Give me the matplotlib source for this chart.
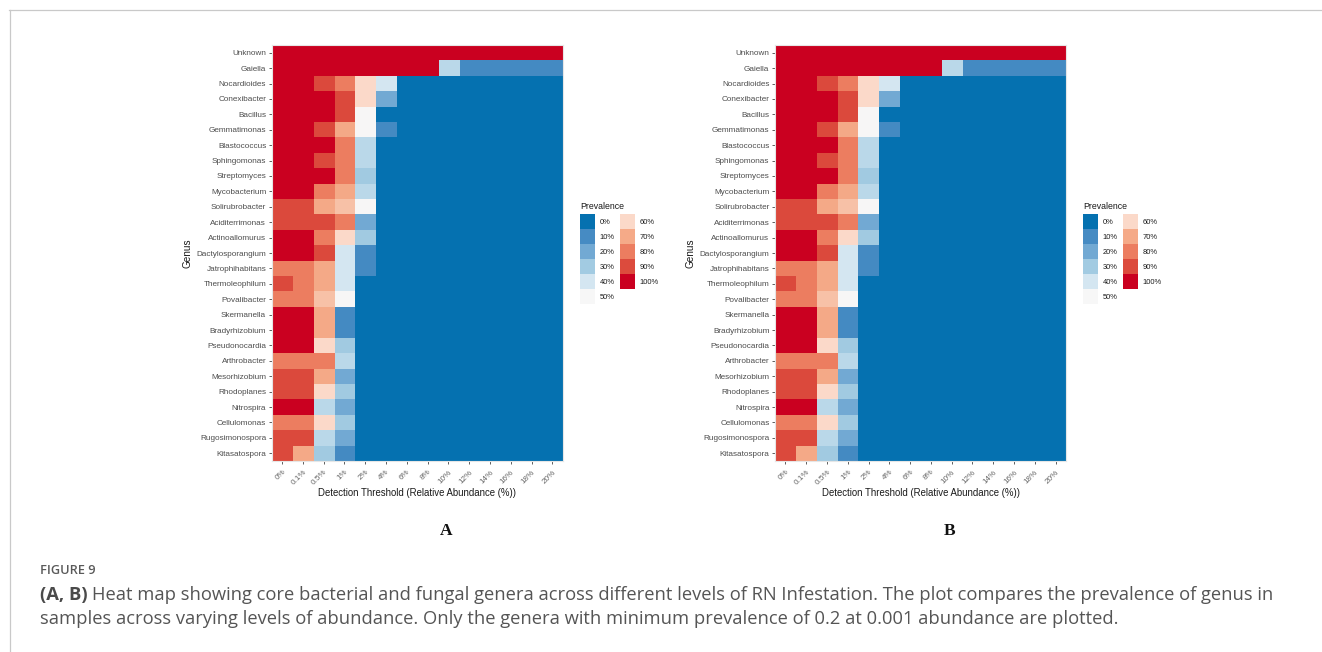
import numpy as np
import matplotlib
matplotlib.use("Agg")
import matplotlib.pyplot as plt
from matplotlib.colors import LinearSegmentedColormap
from matplotlib.patches import Patch
from matplotlib.lines import Line2D

# ---- data -------------------------------------------------------------
genera = [
    "Unknown", "Gaiella", "Nocardioides", "Conexibacter", "Bacillus",
    "Gemmatimonas", "Blastococcus", "Sphingomonas", "Streptomyces",
    "Mycobacterium", "Solirubrobacter", "Aciditerrimonas", "Actinoallomurus",
    "Dactylosporangium", "Jatrophihabitans", "Thermoleophilum", "Povalibacter",
    "Skermanella", "Bradyrhizobium", "Pseudonocardia", "Arthrobacter",
    "Mesorhizobium", "Rhodoplanes", "Nitrospira", "Cellulomonas",
    "Rugosimonospora", "Kitasatospora",
]
thresholds = ["0%", "0.1%", "0.5%", "1%", "2%", "4%", "6%", "8%", "10%",
              "12%", "14%", "16%", "18%", "20%"]

# prevalence (fraction of samples) per genus at each detection threshold
prev_head = [
    [1.00, 1.00, 1.00, 1.00, 1.00, 1.00, 1.00, 1.00, 1.00, 1.00, 1.00, 1.00, 1.00, 1.00],
    [1.00, 1.00, 1.00, 1.00, 1.00, 1.00, 1.00, 1.00, 0.35, 0.10, 0.10, 0.10, 0.10, 0.10],
]
# remaining genera: first six thresholds, zero prevalence beyond
prev_low = [
    [1.00, 1.00, 0.90, 0.80, 0.60, 0.40],
    [1.00, 1.00, 1.00, 0.90, 0.60, 0.20],
    [1.00, 1.00, 1.00, 0.90, 0.50, 0.00],
    [1.00, 1.00, 0.90, 0.70, 0.50, 0.10],
    [1.00, 1.00, 1.00, 0.80, 0.35, 0.00],
    [1.00, 1.00, 0.90, 0.80, 0.35, 0.00],
    [1.00, 1.00, 1.00, 0.80, 0.30, 0.00],
    [1.00, 1.00, 0.80, 0.70, 0.35, 0.00],
    [0.90, 0.90, 0.70, 0.65, 0.50, 0.00],
    [0.90, 0.90, 0.90, 0.80, 0.20, 0.00],
    [1.00, 1.00, 0.80, 0.60, 0.30, 0.00],
    [1.00, 1.00, 0.90, 0.40, 0.10, 0.00],
    [0.80, 0.80, 0.70, 0.40, 0.10, 0.00],
    [0.90, 0.80, 0.70, 0.40, 0.00, 0.00],
    [0.80, 0.80, 0.65, 0.50, 0.00, 0.00],
    [1.00, 1.00, 0.70, 0.10, 0.00, 0.00],
    [1.00, 1.00, 0.70, 0.10, 0.00, 0.00],
    [1.00, 1.00, 0.60, 0.30, 0.00, 0.00],
    [0.80, 0.80, 0.80, 0.35, 0.00, 0.00],
    [0.90, 0.90, 0.70, 0.20, 0.00, 0.00],
    [0.90, 0.90, 0.60, 0.30, 0.00, 0.00],
    [1.00, 1.00, 0.35, 0.20, 0.00, 0.00],
    [0.80, 0.80, 0.60, 0.30, 0.00, 0.00],
    [0.90, 0.90, 0.35, 0.20, 0.00, 0.00],
    [0.90, 0.70, 0.30, 0.10, 0.00, 0.00],
]
legend_levels = [0.0, 0.1, 0.2, 0.3, 0.4, 0.5, 0.6, 0.7, 0.8, 0.9, 1.0]
legend_labels = ["0%", "10%", "20%", "30%", "40%", "50%",
                 "60%", "70%", "80%", "90%", "100%"]
level_colors = ["#0571b0", "#468bc3", "#72a9d3", "#a2cbe2", "#d4e6f1",
                "#f7f7f7", "#fbd9c9", "#f5aa88", "#ec7d60", "#dc4b3d",
                "#ca0020"]

panel_letters = ["A", "B"]

# ---- build matrix -----------------------------------------------------
n_thr = len(thresholds)
prevalence = np.array(
    prev_head + [row + [0.0] * (n_thr - len(row)) for row in prev_low]
)

cmap = LinearSegmentedColormap.from_list(
    "prev", list(zip(legend_levels, level_colors)))

plt.rcParams["font.family"] = ["Liberation Sans", "DejaVu Sans"]

W, H = 1322, 652
fig = plt.figure(figsize=(W / 100, H / 100), dpi=100)
fig.patch.set_facecolor("white")


def fx(px):
    return px / W


def fy(py):
    return 1 - py / H


tick_col = "#4d4d4d"
panel_lefts = [271.7, 775.0]

for left_px, letter in zip(panel_lefts, panel_letters):
    ax = fig.add_axes([fx(left_px), fy(461), 291 / W, 416 / H])
    ax.imshow(prevalence, cmap=cmap, vmin=0, vmax=1, aspect="auto",
              interpolation="nearest")
    ax.set_xticks(range(n_thr))
    ax.set_xticklabels(thresholds, rotation=45, ha="right", va="top",
                       rotation_mode="anchor", fontsize=5.9, color="#666666")
    ax.set_yticks(range(len(genera)))
    ax.set_yticklabels(genera, fontsize=5.9, color=tick_col)
    ax.tick_params(axis="both", length=2.5, width=0.6, color="#444444",
                   pad=1.5)
    ax.tick_params(axis="x", pad=3)
    for s in ax.spines.values():
        s.set_color("#e6e6e6")
        s.set_linewidth(0.8)
    ax.set_xlabel("Detection Threshold (Relative Abundance (%))",
                  fontsize=6.95, color="#1a1a1a", labelpad=1)
    ax.set_ylabel("Genus", fontsize=7.2, color="#1a1a1a", labelpad=3)

    handles = [Patch(facecolor=c, edgecolor="none") for c in level_colors]
    leg = fig.legend(handles, legend_labels, ncol=2, title="Prevalence",
                     loc="upper left",
                     bbox_to_anchor=(fx(left_px + 303), fy(197)),
                     frameon=False, fontsize=5.4, title_fontsize=6.3,
                     handlelength=2.0, handleheight=2.7, labelspacing=0.0,
                     handletextpad=0.6, columnspacing=0.7,
                     borderpad=0.2, alignment="left")
    leg._legend_box.sep = 2
    for t in leg.get_texts():
        t.set_color("#1a1a1a")
    leg.get_title().set_color("#1a1a1a")

    fig.text(fx(left_px + 174.5), fy(531), letter, ha="center", va="center",
             fontsize=12.5, fontweight="bold", family="Liberation Serif",
             color="#111111")

# page frame
frame_col = "#c9c9c9"
fig.add_artist(Line2D([fx(9), 1.0], [fy(9.5), fy(9.5)], color=frame_col,
                      lw=0.9))
fig.add_artist(Line2D([fx(9.5), fx(9.5)], [fy(9.5), 0.0], color=frame_col,
                      lw=0.9))

# caption
cap_font = ["Open Sans", "DejaVu Sans"]
cap_size = 13.2
fig.text(fx(40), fy(570), "FIGURE 9", fontsize=9.2, fontweight="semibold",
         family=cap_font, color="#5a5a5a", va="center", ha="left")
lead = fig.text(fx(40), fy(595), "(A, B) ", fontsize=cap_size,
                fontweight="bold", family=cap_font, color="#4a4a4a",
                va="center", ha="left")
renderer = fig.canvas.get_renderer()
lead_end = lead.get_window_extent(renderer).x1
fig.text(lead_end / W, fy(595),
         "Heat map showing core bacterial and fungal genera across different "
         "levels of RN Infestation. The plot compares the prevalence of genus in",
         fontsize=cap_size, family=cap_font, color="#555555", va="center",
         ha="left")
fig.text(fx(40), fy(619),
         "samples across varying levels of abundance. Only the genera with "
         "minimum prevalence of 0.2 at 0.001 abundance are plotted.",
         fontsize=cap_size, family=cap_font, color="#555555", va="center",
         ha="left")

fig.savefig("out.png", dpi=100)
